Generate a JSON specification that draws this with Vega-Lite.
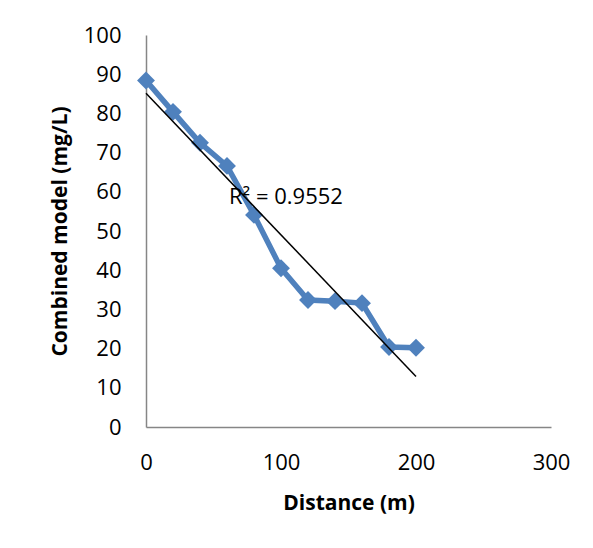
{
  "$schema": "https://vega.github.io/schema/vega-lite/v6.json",
  "width": 405,
  "height": 392,
  "autosize": "none",
  "padding": {"left": 146, "top": 35, "right": 42, "bottom": 121},
  "background": "white",
  "config": {
    "font": "Open Sans",
    "view": {"stroke": null},
    "axis": {
      "domainColor": "#868686",
      "domainWidth": 1.5,
      "ticks": false,
      "tickSize": 0,
      "grid": false,
      "labelFontSize": 22,
      "labelColor": "black",
      "labelPadding": 25,
      "labelFlush": false,
      "labelOverlap": false,
      "labelBound": false,
      "titleFontSize": 21,
      "titleFontWeight": "bold",
      "titleColor": "black"
    }
  },
  "data": {
    "values": [
      {"x": 0, "y": 88.4},
      {"x": 20, "y": 80.4},
      {"x": 40, "y": 72.5},
      {"x": 60, "y": 66.6},
      {"x": 80, "y": 54.1},
      {"x": 100, "y": 40.5},
      {"x": 120, "y": 32.4},
      {"x": 140, "y": 32.1},
      {"x": 160, "y": 31.6},
      {"x": 180, "y": 20.4},
      {"x": 200, "y": 20.2}
    ]
  },
  "encoding": {
    "x": {
      "field": "x",
      "type": "quantitative",
      "scale": {"domain": [0, 300], "nice": false},
      "axis": {"title": "Distance (m)", "values": [0, 100, 200, 300], "titlePadding": 19}
    },
    "y": {
      "field": "y",
      "type": "quantitative",
      "scale": {"domain": [0, 100], "nice": false},
      "axis": {"title": "Combined model (mg/L)", "values": [0, 10, 20, 30, 40, 50, 60, 70, 80, 90, 100], "titlePadding": 13}
    }
  },
  "layer": [
    {
      "mark": {
        "type": "line",
        "color": "#4F81BD",
        "strokeWidth": 5.5,
        "point": {"shape": "diamond", "size": 320, "filled": true, "color": "#4F81BD", "opacity": 1}
      }
    },
    {
      "transform": [{"regression": "y", "on": "x", "extent": [0, 200]}],
      "mark": {"type": "line", "color": "black", "strokeWidth": 1.5}
    },
    {
      "data": {"values": [{"label": "R² = 0.9552", "x": 61.5, "y": 58.7}]},
      "mark": {"type": "text", "align": "left", "baseline": "middle", "fontSize": 22, "color": "black"},
      "encoding": {"text": {"field": "label", "type": "nominal"}}
    }
  ]
}
